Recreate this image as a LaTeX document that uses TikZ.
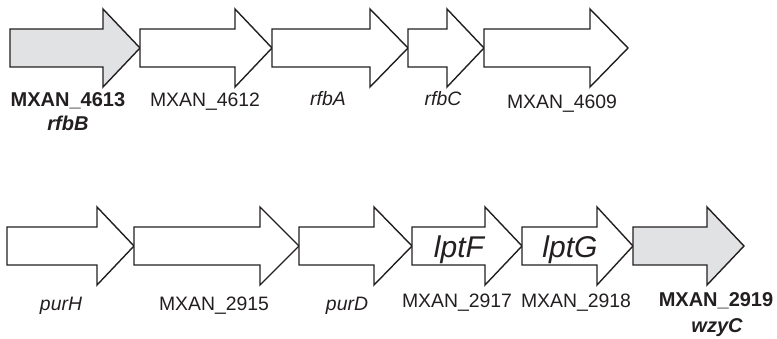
\documentclass[tikz,border=0pt]{standalone}
\usepackage{fontspec}
\setmainfont{Liberation Sans}
\definecolor{hitgray}{RGB}{225,226,228}
\definecolor{ink}{RGB}{35,31,32}
\begin{document}
\begin{tikzpicture}[x=1pt,y=-1pt,
  gene/.style={draw=ink, line width=1.4pt, line join=miter, fill=white},
  hit/.style={gene, fill=hitgray},
  lbl/.style={anchor=base, inner sep=0pt, text=ink, font=\fontsize{19.4}{22}\selectfont},
  lblb/.style={lbl, font=\fontsize{20}{22}\selectfont\bfseries},
  inlbl/.style={anchor=base, inner sep=0pt, text=ink, font=\fontsize{30}{34}\selectfont\itshape}]
\useasboundingbox (0,0) rectangle (777,339);
% gene arrow: #1 style, #2 left end, #3 head base, #4 tip, #5 axis y
\newcommand\genearrow[5]{%
  \draw[#1] (#2,#5-19) -- (#3,#5-19) -- (#3,#5-39) -- (#4,#5)
    -- (#3,#5+39) -- (#3,#5+19) -- (#2,#5+19) -- cycle;}
% upper operon
\genearrow{hit}{10}{103}{140}{48}
\genearrow{gene}{140}{235}{272}{48}
\genearrow{gene}{272}{370}{408}{48}
\genearrow{gene}{408}{447}{484}{48}
\genearrow{gene}{484}{590}{628}{48}
\node[lblb] (t1) at (68,107) {MXAN\_4613};
\node[lblb, font=\fontsize{20}{22}\selectfont\bfseries\itshape] (t1b) at (68,131) {rfbB};
\node[lbl] (t2) at (205,107) {MXAN\_4612};
\node[lbl, font=\fontsize{19.4}{22}\selectfont\itshape] (t3) at (328,106) {rfbA};
\node[lbl, font=\fontsize{19.4}{22}\selectfont\itshape] (t4) at (443,106) {rfbC};
\node[lbl] (t5) at (562,109) {MXAN\_4609};
% lower operon
\genearrow{gene}{7}{97}{134}{246}
\genearrow{gene}{134}{260}{299}{246}
\genearrow{gene}{299}{374}{412}{246}
\genearrow{gene}{412}{485}{522}{246}
\genearrow{gene}{522}{597}{633}{246}
\genearrow{hit}{633}{707}{744}{246}
\node[inlbl] (lF) at (459,258) {lptF};
\node[inlbl] (lG) at (570,258) {lptG};
\node[lbl, font=\fontsize{19.4}{22}\selectfont\itshape] (b1) at (61,310) {purH};
\node[lbl] (b2) at (214,310) {MXAN\_2915};
\node[lbl, font=\fontsize{19.4}{22}\selectfont\itshape] (b3) at (347,310) {purD};
\node[lbl] (b4) at (457,308) {MXAN\_2917};
\node[lbl] (b5) at (576,308) {MXAN\_2918};
\node[lblb] (b6) at (716,306) {MXAN\_2919};
\node[lblb, font=\fontsize{20}{22}\selectfont\bfseries\itshape] (b6b) at (717,332) {wzyC};
\end{tikzpicture}
\end{document}
